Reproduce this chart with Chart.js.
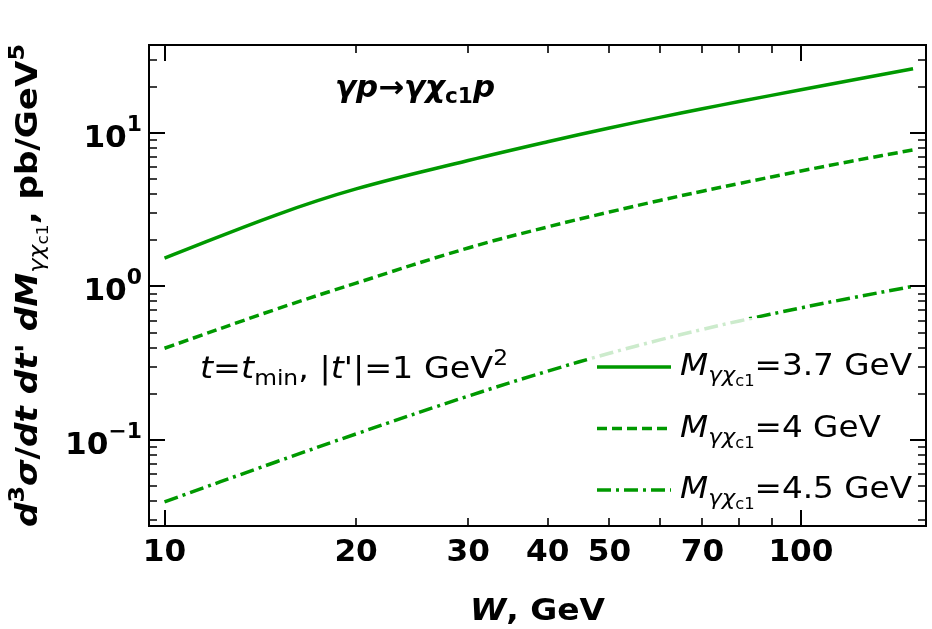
<!DOCTYPE html>
<html><head><meta charset="utf-8">
<script src="https://cdn.jsdelivr.net/npm/chart.js@4.4.0/dist/chart.umd.min.js"></script>
<style>html,body{margin:0;padding:0;background:#fff;} #wrap{width:932px;height:629px;position:relative;}</style>
</head><body><div id="wrap"><canvas id="c" width="932" height="629"></canvas></div>
<script>
// ---- data ----
const W        = [10, 15, 20, 30, 40, 50, 60, 70, 80, 100, 120, 150];
const sigma37  = [1.53, 2.93, 4.32, 6.61, 8.76, 10.76, 12.63, 14.38, 16.02, 19.11, 22.03, 26.17];
const sigma40  = [0.396, 0.713, 1.052, 1.782, 2.444, 3.055, 3.634, 4.174, 4.688, 5.654, 6.545, 7.75];
const sigma45  = [0.0396, 0.0722, 0.1096, 0.1932, 0.2809, 0.3672, 0.4487, 0.5252, 0.5963, 0.7254, 0.8424, 1.0025];
const massLabels = ['3.7', '4', '4.5'];
const xTickValues = [10, 20, 30, 40, 50, 70, 100];
const yTickExponents = [-1, 0, 1];

const GREEN = '#009900';
const FAM = '"DejaVu Sans"';
const R  = s => `normal ${s}px ${FAM}`;
const B  = s => `bold ${s}px ${FAM}`;
const I  = s => `italic ${s}px ${FAM}`;
const BI = s => `italic bold ${s}px ${FAM}`;

function pts(ys){ return W.map((w,i)=>({x:w, y:ys[i]})); }

function richWidth(ctx, runs){
  let w = 0;
  for (const r of runs){ ctx.font = r.f; w += ctx.measureText(r.t).width; }
  return w;
}
// draws runs; if target is given the text is stretched horizontally to that width
function drawRich(ctx, runs, x, y, align, target){
  const w0 = richWidth(ctx, runs);
  const sx = target ? target / w0 : 1;
  const w = w0 * sx;
  let start = align === 'center' ? x - w/2 : (align === 'right' ? x - w : x);
  ctx.save();
  ctx.translate(start, y);
  ctx.scale(sx, 1);
  ctx.textBaseline = 'alphabetic';
  ctx.textAlign = 'left';
  let cx = 0;
  for (const r of runs){
    ctx.font = r.f;
    ctx.fillText(r.t, cx, (r.dy || 0));
    cx += ctx.measureText(r.t).width;
  }
  ctx.restore();
  return sx;
}

const dashStyles = [[], [10, 5], [14, 5, 3, 5]];
const series = [sigma37, sigma40, sigma45];

function legendRuns(i){
  return [
    {t:'M', f:I(30)},
    {t:'γχ', f:I(21), dy:7},
    {t:'c1', f:R(15), dy:11},
    {t:'=' + massLabels[i] + ' GeV', f:R(30)}
  ];
}

const deco = {
  id: 'deco',
  afterDatasetsDraw(chart){
    const ctx = chart.ctx;
    const a = chart.chartArea;
    const xs = chart.scales.x, ys = chart.scales.y;
    ctx.save();

    // legend box (semi-transparent white)
    ctx.fillStyle = 'rgba(255,255,255,0.8)';
    ctx.beginPath();
    if (ctx.roundRect) ctx.roundRect(588, 318, 334, 198, 6); else ctx.rect(588, 318, 334, 198);
    ctx.fill();

    // legend entries
    const rowY = [367, 428.5, 490];
    ctx.fillStyle = '#000';
    const legSx = 232 / richWidth(ctx, legendRuns(0));
    for (let i = 0; i < 3; i++){
      ctx.strokeStyle = GREEN;
      ctx.lineWidth = 3.5;
      ctx.setLineDash(dashStyles[i]);
      ctx.beginPath();
      ctx.moveTo(597, rowY[i]); ctx.lineTo(671, rowY[i]);
      ctx.stroke();
      ctx.setLineDash([]);
      const runs = legendRuns(i);
      drawRich(ctx, runs, 680, rowY[i] + 8, 'left', richWidth(ctx, runs) * legSx);
    }

    // annotations
    drawRich(ctx, [
      {t:'γp', f:BI(30)}, {t:'→', f:B(30)}, {t:'γχ', f:BI(30)},
      {t:'c1', f:B(21), dy:6}, {t:'p', f:BI(30)}
    ], 335, 97, 'left', 160);
    drawRich(ctx, [
      {t:'t', f:I(30)}, {t:'=', f:R(30)}, {t:'t', f:I(30)}, {t:'min', f:R(21), dy:7},
      {t:', |', f:R(30)}, {t:'t', f:I(30)}, {t:"'|=1 GeV", f:R(30)}, {t:'2', f:R(21), dy:-13}
    ], 200, 378, 'left', 308);

    // frame
    ctx.strokeStyle = '#000';
    ctx.lineWidth = 2;
    ctx.strokeRect(a.left, a.top, a.right - a.left, a.bottom - a.top);

    // ticks
    function xTick(v, len){
      const p = Math.round(xs.getPixelForValue(v));
      if (p < a.left || p > a.right) return;
      ctx.beginPath();
      ctx.moveTo(p, a.bottom); ctx.lineTo(p, a.bottom - len);
      ctx.moveTo(p, a.top); ctx.lineTo(p, a.top + len);
      ctx.stroke();
    }
    function yTick(v, len){
      const p = Math.round(ys.getPixelForValue(v));
      if (p < a.top || p > a.bottom) return;
      ctx.beginPath();
      ctx.moveTo(a.left, p); ctx.lineTo(a.left + len, p);
      ctx.moveTo(a.right, p); ctx.lineTo(a.right - len, p);
      ctx.stroke();
    }
    for (let k = 0; k <= 2; k++){
      const d = Math.pow(10, k);
      ctx.lineWidth = 2; xTick(d, 16);
      ctx.lineWidth = 1.6;
      for (let m = 2; m <= 9; m++) xTick(m*d, 8);
    }
    for (let k = -2; k <= 1; k++){
      const d = Math.pow(10, k);
      ctx.lineWidth = 2; yTick(d, 16);
      ctx.lineWidth = 1.6;
      for (let m = 2; m <= 9; m++) yTick(m*d, 8);
    }

    // tick labels
    ctx.fillStyle = '#000';
    for (const v of xTickValues){
      const runs = [{t:String(v), f:B(30)}];
      drawRich(ctx, runs, xs.getPixelForValue(v), 561, 'center', richWidth(ctx, runs) * 1.04);
    }
    for (const e of yTickExponents){
      const p = ys.getPixelForValue(Math.pow(10, e));
      const runs = [{t:'10', f:B(30)}, {t: e < 0 ? '−' + (-e) : String(e), f:B(21), dy:-16}];
      drawRich(ctx, runs, 142, p + 14, 'right', richWidth(ctx, runs) * 1.04);
    }

    // axis titles
    drawRich(ctx, [{t:'W', f:BI(30)}, {t:', GeV', f:B(30)}], (a.left + a.right)/2, 620, 'center', 135);

    ctx.save();
    ctx.translate(37, (a.top + a.bottom)/2);
    ctx.rotate(-Math.PI/2);
    drawRich(ctx, [
      {t:'d', f:BI(30)}, {t:'3', f:B(21), dy:-13}, {t:'σ', f:BI(30)}, {t:'/', f:B(30)},
      {t:'dt', f:BI(30)}, {t:' ', f:B(30)}, {t:'dt', f:BI(30)}, {t:"'", f:B(30)}, {t:' ', f:B(30)},
      {t:'dM', f:BI(30)}, {t:'γχ', f:I(21), dy:7}, {t:'c1', f:R(15), dy:11},
      {t:', pb/GeV', f:B(30)}, {t:'5', f:B(21), dy:-13}
    ], 0, 0, 'center', 483);
    ctx.restore();

    ctx.restore();
  }
};

new Chart(document.getElementById('c'), {
  type: 'line',
  data: {
    datasets: series.map((s, i) => ({
      label: 'M=' + massLabels[i] + ' GeV',
      data: pts(s),
      borderColor: GREEN,
      backgroundColor: GREEN,
      borderWidth: 3.5,
      borderDash: dashStyles[i],
      pointRadius: 0,
      fill: false,
      tension: 0.4
    }))
  },
  options: {
    responsive: false,
    animation: false,
    devicePixelRatio: 1,
    layout: { padding: { left: 0, top: 45, right: 6, bottom: 0 } },
    plugins: { legend: { display: false }, tooltip: { enabled: false } },
    scales: {
      x: {
        type: 'logarithmic', min: 9.454, max: 157.2,
        grid: { display: false }, border: { display: false },
        ticks: { display: false },
        afterFit: s => { s.height = 103; }
      },
      y: {
        type: 'logarithmic', min: 0.02754, max: 37.4,
        grid: { display: false }, border: { display: false },
        ticks: { display: false },
        afterFit: s => { s.width = 149; }
      }
    }
  },
  plugins: [deco]
});
</script>
</body></html>
